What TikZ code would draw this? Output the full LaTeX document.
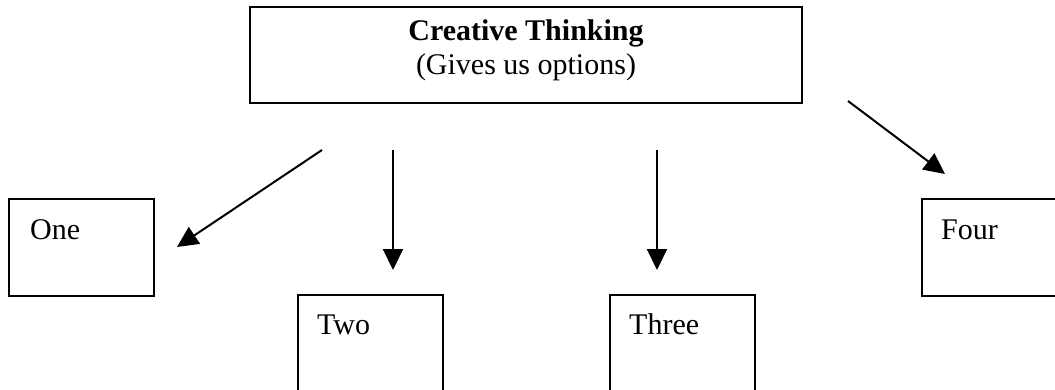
\documentclass[tikz,border=0pt]{standalone}
\usepackage{fontspec}
\setmainfont{Liberation Serif}
\usetikzlibrary{arrows.meta,calc}
\begin{document}
\begin{tikzpicture}[x=1pt,y=-1pt,
  box/.style={draw, line width=2pt, rectangle, minimum width=#1, minimum height=97pt, inner sep=0pt, anchor=north west},
  box/.default=145pt,
  lbl/.style={anchor=base west, inner sep=0pt, font=\fontsize{30}{34}\selectfont},
  ttl/.style={anchor=base, inner sep=0pt, font=\fontsize{30}{34}\selectfont},
  arr/.style={line width=2pt, -{Triangle[length=21pt,width=20pt]}}]
\useasboundingbox (0,0) rectangle (1055,389);
\clip (0,0) rectangle (1055,389);
% top box
\node[box=552pt, minimum height=96pt] (top) at (249,6) {};
\node[ttl, font=\fontsize{30}{34}\selectfont\bfseries] (ttl1) at ($(top.north)+(0,34)$) {Creative Thinking};
\node[ttl] (ttl2) at ($(top.north)+(0,68)$) {(Gives us options)};
% option boxes
\node[box] (one) at (8,198) {};
\node[lbl] (tone) at ($(one.north west)+(22,41)$) {One};
\node[box, minimum height=140pt] (two) at (297,294) {};
\node[lbl] (ttwo) at ($(two.north west)+(20,40)$) {Two};
\node[box, minimum height=140pt] (three) at (609,294) {};
\node[lbl] (tthree) at ($(three.north west)+(20,40)$) {Three};
\node[box] (four) at (921,198) {};
\node[lbl] (tfour) at ($(four.north west)+(20,41)$) {Four};
% arrows
\coordinate (s1) at (322,150); \coordinate (e1) at (177,247);
\coordinate (s2) at (393,150); \coordinate (e2) at (393,270);
\coordinate (s3) at (657,150); \coordinate (e3) at (657,270);
\coordinate (s4) at (848,101); \coordinate (e4) at (945,174);
\draw[arr] (s1) -- (e1);
\draw[arr] (s2) -- (e2);
\draw[arr] (s3) -- (e3);
\draw[arr] (s4) -- (e4);
\end{tikzpicture}
\end{document}
